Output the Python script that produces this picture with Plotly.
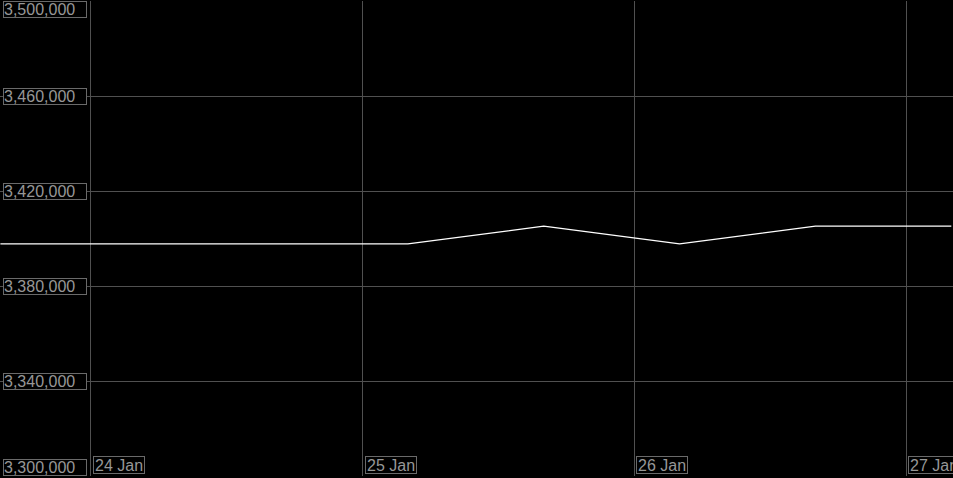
import plotly.graph_objects as go

# Data
times = ["2024-01-23 16:00", "2024-01-24 04:00", "2024-01-24 16:00", "2024-01-25 04:00",
         "2024-01-25 16:00", "2024-01-26 04:00", "2024-01-26 16:00", "2024-01-27 04:00"]
values = [3397700, 3397700, 3397700, 3397700, 3405200, 3397700, 3405200, 3405200]

y_ticks = [3300000, 3340000, 3380000, 3420000, 3460000, 3500000]
y_tick_labels = ["3,300,000", "3,340,000", "3,380,000", "3,420,000", "3,460,000", "3,500,000"]
x_ticks = ["2024-01-24", "2024-01-25", "2024-01-26", "2024-01-27"]
x_tick_labels = ["24 Jan", "25 Jan", "26 Jan", "27 Jan"]

GRID = "#505050"
TXT = "#979797"
BOX = "#6a6a6a"
FONT = dict(family="Liberation Sans, Arial, sans-serif", size=16, color=TXT)

fig = go.Figure()
fig.add_trace(go.Scatter(x=times, y=values, mode="lines",
                         line=dict(color="#ffffff", width=1.2),
                         hoverinfo="x+y", showlegend=False))

annotations = []
for i, (v, lab) in enumerate(zip(y_ticks, y_tick_labels)):
    if i == 0:
        ya = "bottom"
    elif i == len(y_ticks) - 1:
        ya = "top"
    else:
        ya = "middle"
    annotations.append(dict(x=0, xref="paper", y=v, yref="y", text=lab,
                            xanchor="left", yanchor=ya, xshift=3,
                            showarrow=False, font=FONT, align="left",
                            width=82, height=15, borderpad=0,
                            bordercolor=BOX, borderwidth=1, bgcolor="#000000"))
for t, lab in zip(x_ticks, x_tick_labels):
    annotations.append(dict(x=t, xref="x", y=0, yref="paper", text=lab,
                            xanchor="left", yanchor="bottom", xshift=2, yshift=2,
                            showarrow=False, font=FONT, align="left",
                            height=14, borderpad=1,
                            bordercolor=BOX, borderwidth=1, bgcolor="#000000"))

fig.update_layout(
    width=953, height=478,
    margin=dict(l=0, r=0, t=1, b=2),
    paper_bgcolor="#000000", plot_bgcolor="#000000",
    xaxis=dict(range=["2024-01-23 15:58", "2024-01-27 04:09"],
               tickvals=x_ticks, showticklabels=False,
               showgrid=True, gridcolor=GRID, gridwidth=1,
               zeroline=False, showline=False, ticks=""),
    yaxis=dict(range=[3300000, 3500000], tickvals=y_ticks, showticklabels=False,
               showgrid=True, gridcolor=GRID, gridwidth=1,
               zeroline=False, showline=False, ticks=""),
    annotations=annotations,
    showlegend=False,
)

fig.write_html("out.html", config={"displayModeBar": False},
               post_script="document.body.style.margin='0';document.body.style.overflow='hidden';")
